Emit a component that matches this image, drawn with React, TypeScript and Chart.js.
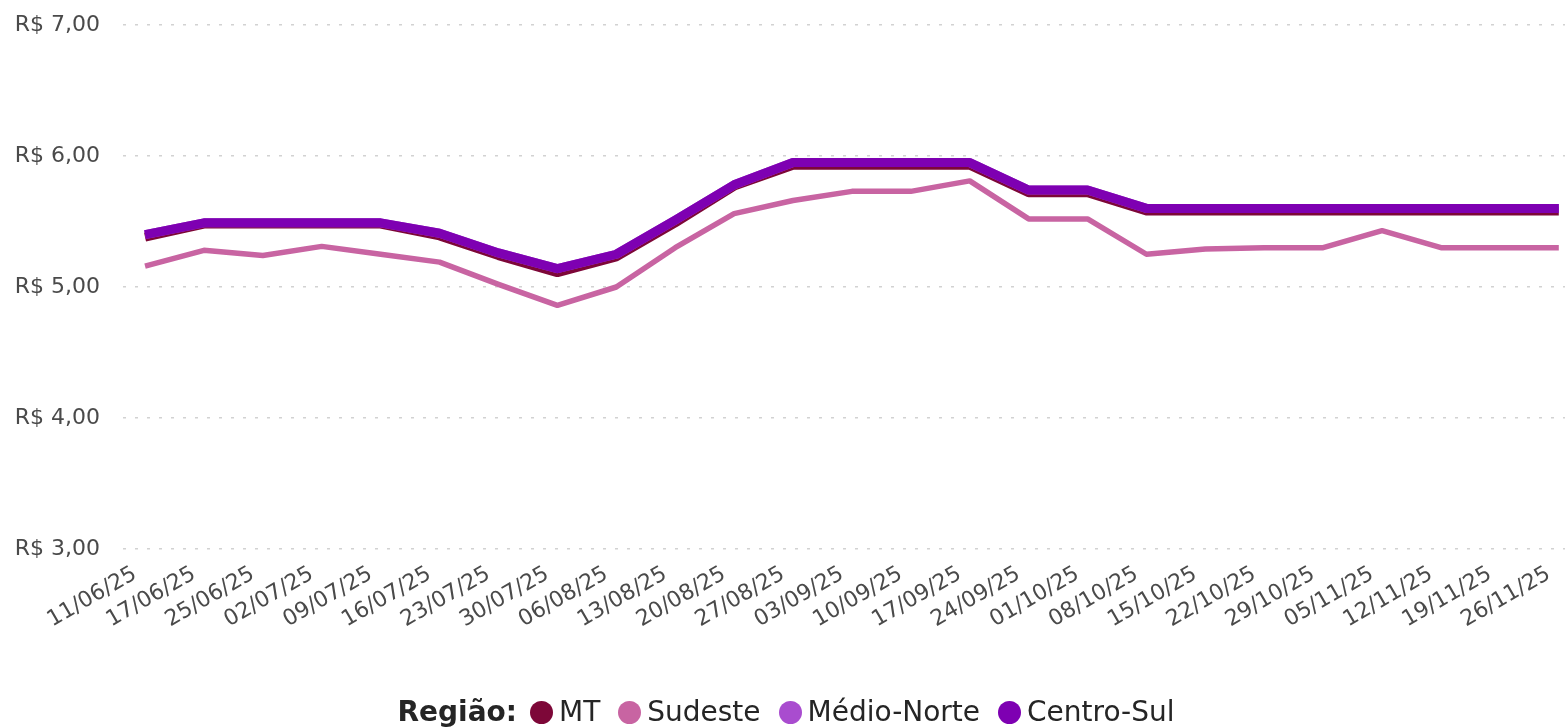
import React, { useEffect, useRef } from "react";
import { Chart, registerables } from "chart.js";

Chart.register(...registerables);

const labels = [
  "11/06/25", "17/06/25", "25/06/25", "02/07/25", "09/07/25", "16/07/25", "23/07/25",
  "30/07/25", "06/08/25", "13/08/25", "20/08/25", "27/08/25", "03/09/25", "10/09/25",
  "17/09/25", "24/09/25", "01/10/25", "08/10/25", "15/10/25", "22/10/25", "29/10/25",
  "05/11/25", "12/11/25", "19/11/25", "26/11/25",
];

const mt = [
  5.38, 5.48, 5.48, 5.48, 5.48, 5.39, 5.24, 5.11, 5.23, 5.49, 5.77, 5.93, 5.93,
  5.93, 5.93, 5.72, 5.72, 5.58, 5.58, 5.58, 5.58, 5.58, 5.58, 5.58, 5.58,
];

const sudeste = [
  5.16, 5.28, 5.24, 5.31, 5.25, 5.19, 5.02, 4.86, 5.0, 5.3, 5.56, 5.66, 5.73,
  5.73, 5.81, 5.52, 5.52, 5.25, 5.29, 5.3, 5.3, 5.43, 5.3, 5.3, 5.3,
];

const medioNorte = [
  5.4, 5.49, 5.49, 5.49, 5.49, 5.41, 5.26, 5.14, 5.25, 5.51, 5.78, 5.95, 5.95,
  5.95, 5.95, 5.74, 5.74, 5.6, 5.6, 5.6, 5.6, 5.6, 5.6, 5.6, 5.6,
];

const centroSul = [
  5.4, 5.49, 5.49, 5.49, 5.49, 5.41, 5.26, 5.14, 5.25, 5.51, 5.78, 5.95, 5.95,
  5.95, 5.95, 5.74, 5.74, 5.6, 5.6, 5.6, 5.6, 5.6, 5.6, 5.6, 5.6,
];

const yTicks = [3, 4, 5, 6, 7];

const legendTitle = "Região:";
const seriesNames = ["MT", "Sudeste", "Médio-Norte", "Centro-Sul"];
const seriesColors = ["#7d0738", "#c864a2", "#a94ccf", "#7e00b2"];

const axisFont = { family: "'DejaVu Sans', sans-serif", size: 22 };
const axisColor = "#4a4a4a";

export default function App() {
  const ref = useRef<HTMLCanvasElement>(null);

  useEffect(() => {
    document.body.style.margin = "0";
    const toXY = (arr: number[]) => arr.map((y, i) => ({ x: i, y }));
    const seriesData = [mt, sudeste, medioNorte, centroSul];
    const widths = [9, 5.5, 9, 9];
    const orders = [2, 3, 1, 0];
    const chart = new Chart(ref.current as HTMLCanvasElement, {
      type: "line",
      data: {
        datasets: seriesNames.map((name, k) => ({
          label: name,
          data: toXY(seriesData[k]),
          borderColor: seriesColors[k],
          backgroundColor: seriesColors[k],
          borderWidth: widths[k],
          order: orders[k],
          fill: false,
        })),
      },
      options: {
        responsive: false,
        animation: false,
        layout: { padding: { top: 25, right: 0, left: 0, bottom: 0 } },
        plugins: {
          legend: { display: false },
          tooltip: { enabled: false },
        },
        elements: {
          point: { radius: 0, hoverRadius: 0 },
          line: { tension: 0, borderJoinStyle: "round", borderCapStyle: "butt" },
        },
        scales: {
          x: {
            type: "linear",
            bounds: "data",
            min: -0.374,
            max: 24.136,
            afterBuildTicks: (s: any) => {
              s.ticks = labels.map((_, i) => ({ value: i }));
            },
            afterFit: (s: any) => {
              s.height = 179;
            },
            grid: { display: false, drawTicks: false },
            border: { display: false },
            ticks: {
              autoSkip: false,
              minRotation: 30,
              maxRotation: 30,
              padding: 12,
              labelOffset: -10,
              color: axisColor,
              font: axisFont,
              callback: (v: any) => labels[Math.round(Number(v))] ?? "",
            },
          },
          y: {
            min: 3,
            max: 7,
            afterBuildTicks: (s: any) => {
              s.ticks = yTicks.map((v) => ({ value: v }));
            },
            afterFit: (s: any) => {
              s.width = 123;
              s.paddingTop = 0;
              s.paddingBottom = 0;
            },
            grid: { color: "#d2d2d2", lineWidth: 1.5, drawTicks: false },
            border: { display: false, dash: [3, 9] },
            ticks: {
              padding: 23,
              color: axisColor,
              font: axisFont,
              callback: (v: any) => "R$ " + Number(v).toFixed(2).replace(".", ","),
            },
          },
        },
      },
    } as any);
    return () => chart.destroy();
  }, []);

  return (
    <div
      style={{
        position: "absolute",
        left: 0,
        top: 0,
        width: 1565,
        height: 728,
        overflow: "hidden",
        background: "#ffffff",
      }}
    >
      <canvas ref={ref} width={1584} height={728} style={{ display: "block" }} />
      <div
        style={{
          position: "absolute",
          left: 0,
          top: 695,
          width: 1572,
          display: "flex",
          justifyContent: "center",
          alignItems: "center",
          fontFamily: "'DejaVu Sans', sans-serif",
          fontSize: 28,
          lineHeight: "34px",
          color: "#252525",
          whiteSpace: "nowrap",
        }}
      >
        <span style={{ fontWeight: "bold", marginRight: 13 }}>{legendTitle}</span>
        {seriesNames.map((name, k) => (
          <span
            key={name}
            style={{ display: "flex", alignItems: "center", marginRight: k < seriesNames.length - 1 ? 18 : 0 }}
          >
            <span
              style={{
                display: "inline-block",
                width: 23,
                height: 23,
                borderRadius: "50%",
                background: seriesColors[k],
                marginRight: 6,
              }}
            />
            <span>{name}</span>
          </span>
        ))}
      </div>
    </div>
  );
}
